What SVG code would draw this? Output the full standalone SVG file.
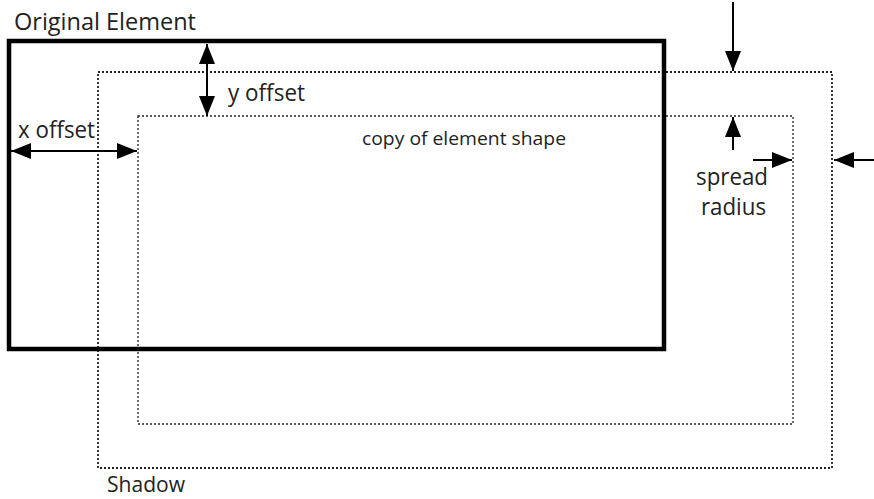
<svg xmlns="http://www.w3.org/2000/svg" width="874" height="499" viewBox="0 0 874 499">
<style>
text{font-family:"Open Sans","Noto Sans","Liberation Sans",sans-serif;fill:#222}
.lbl{font-size:23px}
.small{font-size:19px}
.dot{fill:none;stroke:#222;stroke-dasharray:2 2}
.arr{stroke:#000;stroke-width:2;fill:none}
</style>
<defs>
<marker id="ahb" viewBox="0 0 10 10" refX="10" refY="5" markerWidth="20" markerHeight="16" markerUnits="userSpaceOnUse" orient="auto-start-reverse" preserveAspectRatio="none">
<path d="M0,0 L10,5 L0,10 z" fill="#000"/>
</marker>
</defs>
<g id="shadow-outer">
<rect class="dot" x="98" y="72" width="734" height="396" style="stroke-width:1.8"/>
<text x="107" y="492" style="font-size:21px" textLength="78" lengthAdjust="spacingAndGlyphs">Shadow</text>
</g>
<g id="shadow-inner">
<rect class="dot" x="138" y="116" width="655" height="308" style="stroke-width:1.3"/>
<text class="small" x="362" y="145" textLength="204" lengthAdjust="spacingAndGlyphs">copy of element shape</text>
</g>
<g id="original">
<rect x="9" y="41" width="655" height="308" fill="none" stroke="#000" stroke-width="4.5"/>
<text class="lbl" x="14" y="30" textLength="182" lengthAdjust="spacingAndGlyphs">Original Element</text>
</g>
<g id="connectors">
<line class="arr" x1="207" y1="44" x2="207" y2="116" marker-start="url(#ahb)" marker-end="url(#ahb)"/>
<line class="arr" x1="11" y1="151" x2="137" y2="151" marker-start="url(#ahb)" marker-end="url(#ahb)"/>
<line class="arr" x1="733" y1="2" x2="733" y2="71" marker-end="url(#ahb)"/>
<line class="arr" x1="733" y1="150" x2="733" y2="117" marker-end="url(#ahb)"/>
<line class="arr" x1="753" y1="160" x2="792" y2="160" marker-end="url(#ahb)"/>
<line class="arr" x1="874" y1="160" x2="834" y2="160" marker-end="url(#ahb)"/>
</g>
<g id="labels">
<text class="lbl" x="228" y="101" textLength="77" lengthAdjust="spacingAndGlyphs">y offset</text>
<text class="lbl" x="18" y="138" textLength="77" lengthAdjust="spacingAndGlyphs">x offset</text>
<text class="lbl" x="696" y="185" textLength="72" lengthAdjust="spacingAndGlyphs">spread</text>
<text class="lbl" x="701" y="215" textLength="65" lengthAdjust="spacingAndGlyphs">radius</text>
</g>
</svg>
